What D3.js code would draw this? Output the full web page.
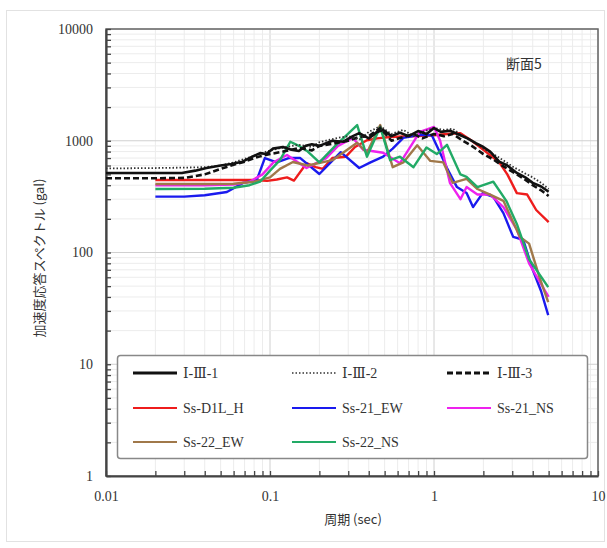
<!DOCTYPE html>
<html><head><meta charset="utf-8">
<script src="https://cdn.jsdelivr.net/npm/d3@7"></script>
<style>body{margin:0;background:#fff}svg{display:block}</style>
</head><body>
<script>
// ---- data ----
const xTickValues = [0.01, 0.1, 1, 10];
const xTickLabels = ["0.01", "0.1", "1", "10"];
const yTickValues = [1, 10, 100, 1000, 10000];
const yTickLabels = ["1", "10", "100", "1000", "10000"];

const seriesNames = ["Ⅰ-Ⅲ-1", "Ⅰ-Ⅲ-2", "Ⅰ-Ⅲ-3", "Ss-D1L_H", "Ss-21_EW", "Ss-21_NS", "Ss-22_EW", "Ss-22_NS"];

const i3_1 = [[0.01,515],[0.02,515],[0.029,515],[0.035,540],[0.041,570],[0.05,600],[0.058,620],[0.068,650],[0.078,720],[0.087,775],[0.095,760],[0.104,850],[0.12,880],[0.135,830],[0.15,810],[0.165,900],[0.18,930],[0.2,900],[0.24,1000],[0.28,980],[0.32,1100],[0.35,1170],[0.4,1050],[0.45,1200],[0.49,1250],[0.55,1100],[0.62,1180],[0.7,1100],[0.8,1220],[0.9,1150],[1.0,1300],[1.1,1200],[1.25,1230],[1.45,1120],[1.6,1050],[1.8,950],[2.0,880],[2.2,800],[2.5,650],[2.8,600],[3.2,515],[3.6,470],[4.0,420],[4.5,390],[5.0,350]];
const i3_2 = [[0.01,565],[0.02,570],[0.03,575],[0.04,580],[0.05,600],[0.06,640],[0.07,690],[0.08,730],[0.1,820],[0.12,870],[0.15,920],[0.18,880],[0.2,970],[0.25,1050],[0.3,1100],[0.35,1020],[0.4,1200],[0.47,1350],[0.55,1150],[0.65,1250],[0.75,1100],[0.85,1200],[1.0,1300],[1.15,1250],[1.3,1280],[1.5,1100],[1.7,1000],[2.0,850],[2.3,760],[2.6,680],[3.0,590],[3.5,520],[4.0,470],[4.5,420],[5.0,370]];
const i3_3 = [[0.01,462],[0.02,462],[0.03,465],[0.04,500],[0.05,560],[0.06,610],[0.07,650],[0.085,720],[0.1,760],[0.12,800],[0.15,860],[0.18,820],[0.2,900],[0.25,950],[0.3,1000],[0.35,1080],[0.4,1100],[0.47,1300],[0.55,1000],[0.65,1080],[0.75,1150],[0.85,1050],[1.0,1150],[1.15,1100],[1.3,1150],[1.5,1000],[1.7,900],[2.0,760],[2.3,680],[2.6,600],[3.0,530],[3.5,460],[4.0,400],[4.5,360],[5.0,320]];
const ssD1L_H = [[0.02,446],[0.04,446],[0.06,446],[0.08,445],[0.096,437],[0.11,450],[0.127,470],[0.14,440],[0.167,630],[0.19,580],[0.21,560],[0.24,700],[0.29,720],[0.33,880],[0.39,1010],[0.45,1050],[0.54,1080],[0.65,1090],[0.8,1100],[1.0,1120],[1.2,1150],[1.45,1170],[1.7,1000],[2.0,830],[2.5,640],[2.8,500],[3.2,340],[3.7,330],[4.2,240],[5.0,187]];
const ss21_EW = [[0.02,316],[0.03,316],[0.04,325],[0.0546,348],[0.0685,420],[0.083,445],[0.093,700],[0.11,640],[0.13,700],[0.153,700],[0.2,504],[0.27,790],[0.35,570],[0.41,640],[0.49,720],[0.56,850],[0.65,1060],[0.82,1130],[0.97,1120],[1.08,800],[1.2,570],[1.38,385],[1.58,340],[1.73,255],[1.98,340],[2.3,315],[2.65,225],[3.04,138],[3.5,130],[4.0,70],[4.5,45],[4.97,27.5]];
const ss21_NS = [[0.02,400],[0.04,400],[0.06,405],[0.075,430],[0.09,500],[0.105,640],[0.127,745],[0.167,570],[0.22,700],[0.26,900],[0.32,1060],[0.37,830],[0.49,780],[0.62,630],[0.82,1200],[1.0,1330],[1.09,1000],[1.25,420],[1.45,300],[1.58,385],[1.84,330],[2.2,330],[2.65,255],[3.2,160],[3.8,80],[4.4,55],[5.0,40]];
const ss22_EW = [[0.02,410],[0.04,410],[0.06,412],[0.08,430],[0.1,470],[0.115,560],[0.138,645],[0.17,600],[0.24,670],[0.34,960],[0.39,780],[0.47,1380],[0.56,580],[0.65,640],[0.79,910],[0.95,660],[1.14,640],[1.3,420],[1.58,455],[1.84,370],[2.2,330],[2.65,290],[3.34,138],[3.8,120],[4.4,60],[4.97,36]];
const ss22_NS = [[0.02,370],[0.04,372],[0.06,380],[0.075,400],[0.087,430],[0.1,540],[0.115,670],[0.133,980],[0.15,900],[0.17,800],[0.2,640],[0.25,900],[0.34,1380],[0.39,720],[0.47,1330],[0.54,670],[0.62,720],[0.75,580],[0.9,870],[1.04,760],[1.2,920],[1.45,500],[1.58,475],[1.84,385],[2.3,430],[2.76,290],[3.2,180],[3.8,87],[4.97,49]];

const seriesData = [i3_1, i3_2, i3_3, ssD1L_H, ss21_EW, ss21_NS, ss22_EW, ss22_NS];
const seriesColors = ["#111111", "#333333", "#111111", "#ee1c1c", "#1a1aee", "#ee22ee", "#a0784a", "#22aa66"];
const seriesWidths = [2.6, 1.8, 2.6, 2.4, 2.4, 2.4, 2.4, 2.4];
const seriesDash = [null, "1.5,2", "6,3", null, null, null, null, null];

// ---- layout ----
const W = 607, H = 548;
const L = 106, R = 598, T = 29, B = 476;

const svg = d3.select("body").append("svg").attr("width", W).attr("height", H);

// outer chart border
svg.append("rect").attr("x", 6.5).attr("y", 10.5).attr("width", 598).attr("height", 531)
  .attr("fill", "#fff").attr("stroke", "#e2e2e2");

const x = d3.scaleLog().domain([0.01, 10]).range([L, R]);
const y = d3.scaleLog().domain([1, 10000]).range([B, T]);

const minorX = [], minorY = [];
[0.01, 0.1, 1].forEach(d => { for (let k = 1; k <= 9; k++) minorX.push(d * k); });
minorX.push(10);
[1, 10, 100, 1000].forEach(d => { for (let k = 1; k <= 9; k++) minorY.push(d * k); });
minorY.push(10000);

const grid = svg.append("g");
grid.selectAll(".gx").data(minorX).join("line")
  .attr("x1", d => x(d)).attr("x2", d => x(d)).attr("y1", T).attr("y2", B)
  .attr("stroke", d => xTickValues.includes(+d.toPrecision(6)) ? "#d0d0d0" : "#ececec").attr("stroke-width", 1);
grid.selectAll(".gy").data(minorY).join("line")
  .attr("y1", d => y(d)).attr("y2", d => y(d)).attr("x1", L).attr("x2", R)
  .attr("stroke", d => yTickValues.includes(+d.toPrecision(6)) ? "#d0d0d0" : "#ececec").attr("stroke-width", 1);

svg.append("rect").attr("x", L).attr("y", T).attr("width", R - L).attr("height", B - T)
  .attr("fill", "none").attr("stroke", "#666").attr("stroke-width", 1.5);

const fmtX = d => { const i = xTickValues.findIndex(v => Math.abs(v - d) / d < 1e-6); return i >= 0 ? xTickLabels[i] : ""; };
const fmtY = d => { const i = yTickValues.findIndex(v => Math.abs(v - d) / d < 1e-6); return i >= 0 ? yTickLabels[i] : ""; };

const xAxis = svg.append("g").attr("transform", `translate(0,${B})`)
  .call(d3.axisBottom(x).tickValues(minorX).tickFormat(fmtX).tickSizeInner(-5).tickSizeOuter(0).tickPadding(15));
const yAxis = svg.append("g").attr("transform", `translate(${L},0)`)
  .call(d3.axisLeft(y).tickValues(minorY).tickFormat(fmtY).tickSizeInner(-5).tickSizeOuter(0).tickPadding(13));
[xAxis, yAxis].forEach(g => {
  g.select(".domain").attr("stroke", "#444").attr("stroke-width", 2.2);
  g.selectAll(".tick line").attr("stroke", "#444").attr("stroke-width", 1.3);
  g.selectAll("text").attr("font-family", "'Liberation Serif', 'DejaVu Serif', serif")
    .attr("font-size", 14).attr("fill", "#333");
});

const clip = svg.append("clipPath").attr("id", "clip").append("rect")
  .attr("x", L).attr("y", T).attr("width", R - L).attr("height", B - T);
const line = d3.line().x(d => x(d[0])).y(d => y(d[1]));
const order = [3, 4, 5, 6, 7, 2, 1, 0];
const lines = svg.append("g").attr("clip-path", "url(#clip)");
order.forEach(i => {
  lines.append("path").datum(seriesData[i]).attr("d", line)
    .attr("fill", "none").attr("stroke", seriesColors[i]).attr("stroke-width", seriesWidths[i])
    .attr("stroke-dasharray", seriesDash[i]).attr("stroke-linejoin", "round");
});

svg.append("text").attr("x", 506).attr("y", 69).text("断面5")
  .attr("font-family", "'Noto Sans CJK JP', sans-serif").attr("font-size", 14).attr("fill", "#333");

svg.append("text").attr("x", 353).attr("y", 524).attr("text-anchor", "middle")
  .attr("font-family", "'Noto Sans CJK JP', sans-serif").attr("font-size", 13).attr("fill", "#333")
  .text("周期 (sec)");
svg.append("text").attr("transform", "translate(44,258) rotate(-90)").attr("text-anchor", "middle")
  .attr("font-family", "'Noto Sans CJK JP', sans-serif").attr("font-size", 13).attr("fill", "#333")
  .text("加速度応答スペクトル (gal)");

const lg = svg.append("g");
lg.append("rect").attr("x", 117.5).attr("y", 355.5).attr("width", 470).attr("height", 103).attr("rx", 3)
  .attr("fill", "#fff").attr("stroke", "#888").attr("stroke-width", 1.5);
const colX = [133, 292, 447];
const rowY = [373, 408, 442];
seriesNames.forEach((name, i) => {
  const cx = colX[i % 3], cy = rowY[Math.floor(i / 3)];
  lg.append("line").attr("x1", cx).attr("x2", cx + 44).attr("y1", cy).attr("y2", cy)
    .attr("stroke", seriesColors[i]).attr("stroke-width", i < 3 && i !== 1 ? 3 : (i === 1 ? 1.6 : 2.2))
    .attr("stroke-dasharray", seriesDash[i]);
  lg.append("text").attr("x", cx + 50).attr("y", cy + 5).text(name)
    .attr("font-family", "'Liberation Serif', 'DejaVu Serif', serif").attr("font-size", 14).attr("fill", "#333");
});
</script>
</body></html>
